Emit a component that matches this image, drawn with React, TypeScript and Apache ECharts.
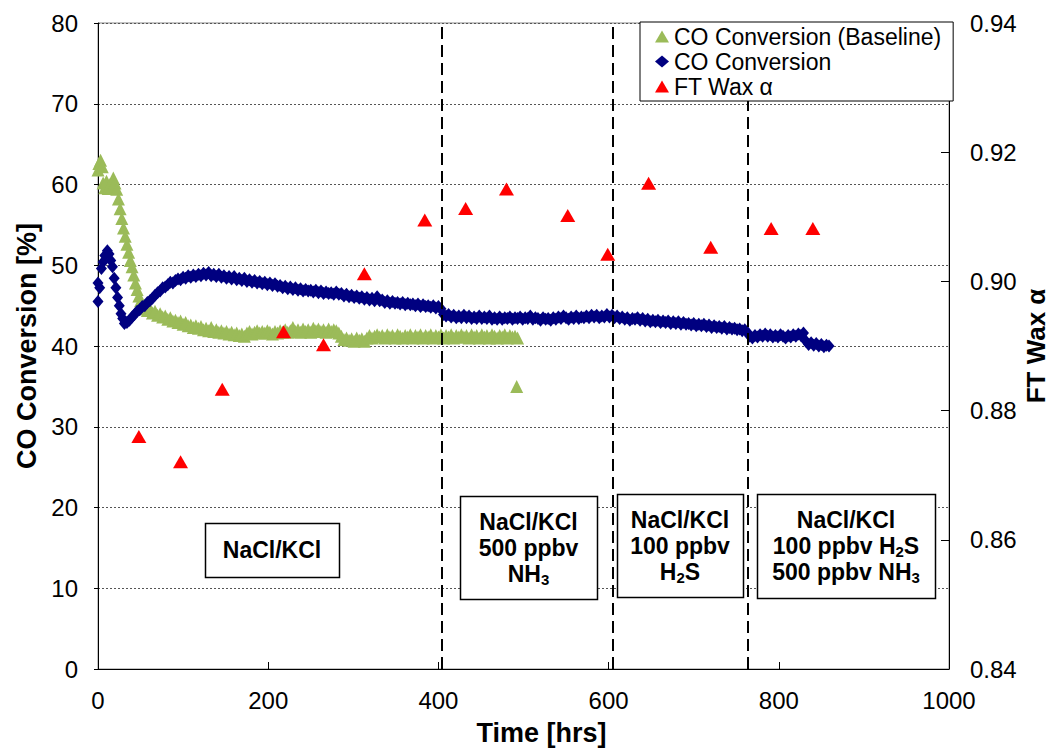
import React, { useEffect, useRef } from "react";
import * as echarts from "echarts";

const FONT = "'Liberation Sans', Arial, sans-serif";

const xTicks = [0, 200, 400, 600, 800, 1000];
const phaseBreaks = [404, 605, 764];

// CO Conversion (Baseline) [hrs, %]
const baseline: number[][] = [
  [0, 61.8], [1, 62.6], [3, 63.0], [5, 62.2], [6, 60.2], [8, 59.6], [10, 60.4], [12, 59.5], [14, 60.0], [16, 59.6],
  [18, 60.8], [20, 60.2], [22, 59.4], [24, 58.2], [26, 57.0], [28, 55.8], [30, 54.6], [32, 53.6], [34, 52.6], [36, 51.6],
  [38, 50.6], [40, 49.8], [42, 48.8], [44, 47.8], [46, 47.0], [48, 46.2], [50, 45.6], [52, 45.0], [55, 44.6], [58, 44.4],
  [61, 44.6], [64, 44.1], [67, 44.3], [70, 43.8], [73, 44.0], [76, 43.6], [79, 43.7], [82, 43.3], [85, 43.5], [88, 43.1],
  [91, 43.2], [94, 42.9], [97, 43.1], [100, 42.7], [103, 42.9], [106, 42.5], [109, 42.6], [112, 42.3], [115, 42.5], [118, 42.2],
  [121, 42.4], [124, 42.0], [127, 42.2], [130, 41.9], [133, 42.3], [136, 41.8], [139, 42.0], [142, 41.7], [145, 41.9], [148, 41.6],
  [151, 41.8], [154, 41.5], [157, 41.7], [160, 41.4], [163, 41.6], [166, 41.3], [169, 41.5], [172, 41.2], [175, 41.6], [178, 41.8],
  [181, 41.5], [184, 41.7], [187, 41.9], [190, 41.6], [193, 41.8], [196, 41.6], [199, 41.9], [202, 41.7], [205, 41.5], [208, 41.8],
  [211, 41.6], [214, 41.9], [217, 41.7], [220, 42.0], [223, 41.7], [226, 41.9], [229, 42.3], [232, 41.8], [235, 42.0], [238, 41.7],
  [241, 42.1], [244, 41.8], [247, 42.0], [250, 41.7], [253, 42.2], [256, 41.9], [259, 42.1], [262, 41.8], [265, 42.0], [268, 41.7],
  [271, 42.1], [274, 41.8], [277, 42.0], [280, 41.9], [283, 41.6], [286, 41.2], [289, 40.8], [292, 41.0], [295, 40.7], [298, 40.9],
  [301, 40.6], [304, 41.0], [307, 40.7], [310, 40.9], [313, 40.6], [316, 41.0], [319, 41.3], [322, 41.0], [325, 41.2], [328, 41.4],
  [331, 41.1], [334, 41.3], [337, 41.0], [340, 41.4], [343, 41.1], [346, 41.3], [349, 41.0], [352, 41.4], [355, 41.2], [358, 41.0],
  [361, 41.3], [364, 41.1], [367, 41.4], [370, 41.0], [373, 41.3], [376, 41.1], [379, 41.4], [382, 41.0], [385, 41.3], [388, 41.1],
  [391, 41.4], [394, 41.0], [397, 41.3], [400, 41.1], [403, 41.4], [406, 41.0], [409, 41.3], [412, 41.1], [415, 41.4], [418, 41.0],
  [421, 41.3], [424, 41.1], [427, 41.4], [430, 41.1], [433, 41.3], [436, 41.0], [439, 41.4], [442, 41.1], [445, 41.3], [448, 41.0],
  [451, 41.4], [454, 41.1], [457, 41.3], [460, 41.0], [463, 41.4], [466, 41.2], [469, 41.0], [472, 41.3], [475, 41.1], [478, 41.4],
  [481, 41.0], [484, 41.3], [487, 41.1], [490, 41.2], [493, 41.0], [492, 35.0],
];

// CO Conversion [hrs, %]
const conversion: number[][] = [
  [0, 45.5], [0, 47.8], [2, 47.2], [4, 49.6], [6, 50.4], [8, 51.2], [11, 51.8], [13, 51.4], [15, 50.6], [17, 49.8],
  [19, 48.4], [21, 47.2], [23, 46.0], [25, 45.0], [27, 44.0], [29, 43.4], [31, 42.8], [34, 42.9], [37, 43.2], [40, 43.6],
  [43, 43.9], [46, 44.3], [49, 44.5], [52, 44.9], [55, 45.0], [58, 45.4], [61, 45.6], [64, 45.9], [67, 46.3], [70, 46.6],
  [73, 46.8], [76, 47.2], [79, 47.3], [82, 47.6], [85, 47.9], [88, 47.8], [91, 48.1], [94, 48.3], [97, 48.2], [100, 48.5],
  [103, 48.4], [106, 48.7], [109, 48.5], [112, 48.8], [115, 48.6], [118, 48.9], [121, 48.7], [124, 49.0], [127, 48.8], [130, 49.1],
  [133, 48.7], [136, 48.9], [139, 48.6], [142, 48.9], [145, 48.5], [148, 48.7], [151, 48.4], [154, 48.6], [157, 48.3], [160, 48.6],
  [163, 48.2], [166, 48.4], [169, 48.1], [172, 48.4], [175, 48.0], [178, 48.2], [181, 47.9], [184, 48.1], [187, 47.8], [190, 48.0],
  [193, 47.7], [196, 47.9], [199, 47.6], [202, 47.8], [205, 47.5], [208, 47.7], [211, 47.4], [214, 47.5], [217, 47.2], [220, 47.4],
  [223, 47.1], [226, 47.3], [229, 47.0], [232, 47.2], [235, 46.9], [238, 47.1], [241, 46.8], [244, 47.0], [247, 46.8], [250, 46.9],
  [253, 46.7], [256, 46.9], [259, 46.6], [262, 46.8], [265, 46.5], [268, 46.7], [271, 46.5], [274, 46.6], [277, 46.4], [280, 46.7],
  [283, 46.4], [286, 46.5], [289, 46.2], [292, 46.4], [295, 46.1], [298, 46.3], [301, 46.0], [304, 46.2], [307, 45.9], [310, 46.1],
  [313, 45.8], [316, 46.0], [319, 45.7], [322, 45.9], [325, 45.6], [328, 46.1], [331, 45.6], [334, 45.7], [337, 45.4], [340, 45.6],
  [343, 45.3], [346, 45.5], [349, 45.3], [352, 45.4], [355, 45.2], [358, 45.4], [361, 45.1], [364, 45.3], [367, 45.1], [370, 45.2],
  [373, 45.0], [376, 45.2], [379, 44.9], [382, 45.1], [385, 44.9], [388, 45.0], [391, 44.8], [394, 45.0], [397, 44.7], [400, 44.9],
  [403, 44.6], [406, 43.9], [409, 43.7], [412, 43.9], [415, 43.6], [418, 43.8], [421, 43.5], [424, 43.7], [427, 43.5], [430, 43.8],
  [433, 43.5], [436, 43.7], [439, 43.4], [442, 43.6], [445, 43.4], [448, 43.7], [451, 43.4], [454, 43.6], [457, 43.4], [460, 43.7],
  [463, 43.3], [466, 43.5], [469, 43.3], [472, 43.6], [475, 43.3], [478, 43.5], [481, 43.4], [484, 43.6], [487, 43.3], [490, 43.5],
  [493, 43.4], [496, 43.6], [499, 43.3], [502, 43.5], [505, 43.4], [508, 43.7], [511, 43.3], [514, 43.5], [517, 43.4], [520, 43.2],
  [523, 43.5], [526, 43.3], [529, 43.4], [532, 43.2], [535, 43.5], [538, 43.3], [541, 43.6], [544, 43.4], [547, 43.7], [550, 43.5],
  [553, 43.3], [556, 43.6], [559, 43.4], [562, 43.7], [565, 43.4], [568, 43.6], [571, 43.5], [574, 43.7], [577, 43.5], [580, 43.8],
  [583, 43.6], [586, 43.8], [589, 43.5], [592, 43.7], [595, 43.6], [598, 43.9], [601, 43.6], [604, 43.8], [607, 43.5], [610, 43.7],
  [613, 43.4], [616, 43.6], [619, 43.3], [622, 43.5], [625, 43.2], [628, 43.4], [631, 43.3], [634, 43.5], [637, 43.2], [640, 43.4],
  [643, 43.1], [646, 43.3], [649, 43.0], [652, 43.2], [655, 43.0], [658, 43.2], [661, 42.9], [664, 43.1], [667, 42.9], [670, 43.1],
  [673, 42.8], [676, 43.0], [679, 42.8], [682, 43.0], [685, 42.7], [688, 42.9], [691, 42.7], [694, 42.8], [697, 42.6], [700, 42.8],
  [703, 42.5], [706, 42.7], [709, 42.5], [712, 42.7], [715, 42.4], [718, 42.6], [721, 42.3], [724, 42.5], [727, 42.3], [730, 42.4],
  [733, 42.2], [736, 42.4], [739, 42.1], [742, 42.3], [745, 42.1], [748, 42.2], [751, 42.0], [754, 42.1], [757, 41.9], [760, 42.0],
  [763, 41.7], [766, 41.2], [769, 41.0], [772, 41.3], [775, 41.1], [778, 41.4], [781, 41.2], [784, 41.5], [787, 41.2], [790, 41.4],
  [793, 41.1], [796, 41.3], [799, 41.1], [802, 41.4], [805, 41.2], [808, 41.0], [811, 41.3], [814, 41.1], [817, 41.4], [820, 41.2],
  [823, 41.5], [826, 41.3], [829, 41.6], [832, 40.6], [835, 40.2], [838, 40.4], [841, 40.1], [844, 40.3], [847, 40.0], [850, 40.2],
  [853, 39.9], [856, 40.1], [859, 40.0],
];

// FT Wax alpha [hrs, alpha]
const waxAlpha: number[][] = [
  [48, 0.876], [97, 0.8721], [146, 0.8833], [218, 0.8922], [265, 0.8902], [313, 0.9012], [384, 0.9095], [432, 0.9113],
  [480, 0.9143], [552, 0.9102], [599, 0.9042], [647, 0.9152], [720, 0.9053], [791, 0.9082], [840, 0.9082],
];

const boxLabels = [
  "{b|NaCl/KCl}",
  "{b|NaCl/KCl}\n{b|500 ppbv}\n{b|NH}{s|3}",
  "{b|NaCl/KCl}\n{b|100 ppbv}\n{b|H}{s|2}{b|S}",
  "{b|NaCl/KCl}\n{b|100 ppbv H}{s|2}{b|S}\n{b|500 ppbv NH}{s|3}",
];
const boxRects = [
  [205, 523, 134, 54],
  [460, 496, 137, 103],
  [617, 494, 126, 103],
  [757, 494, 178, 104],
];

export default function App() {
  const ref = useRef<HTMLDivElement>(null);
  useEffect(() => {
    if (!ref.current) return;
    const chart = echarts.init(ref.current, null, { renderer: "svg" });
    const rich = {
      b: { fontFamily: FONT, fontSize: 23, fontWeight: "bold", color: "#000", lineHeight: 26 },
      s: { fontFamily: FONT, fontSize: 15, fontWeight: "bold", color: "#000", lineHeight: 15, verticalAlign: "bottom" },
    };
    const graphics: any[] = [];
    boxRects.forEach((r, i) => {
      graphics.push({
        type: "rect",
        shape: { x: r[0] + 0.5, y: r[1] + 0.5, width: r[2], height: r[3] },
        style: { fill: "#fff", stroke: "#000", lineWidth: 1.5 },
        z: 10,
      });
      graphics.push({
        type: "text",
        x: r[0] + r[2] / 2,
        y: r[1] + r[3] / 2,
        style: { text: boxLabels[i], rich, align: "center", verticalAlign: "middle" },
        z: 11,
      });
    });
    const axisLabel = { fontFamily: FONT, fontSize: 24, color: "#000" };
    const nameStyle = { fontFamily: FONT, fontSize: 27, fontWeight: "bold", color: "#000" };
    chart.setOption({
      animation: false,
      textStyle: { fontFamily: FONT },
      grid: {
        left: 98, right: 101, top: 23, bottom: 82,
        containLabel: false,
        outerBoundsMode: "none",
        show: true, borderColor: "#888", borderWidth: 1,
      },
      legend: {
        orient: "vertical",
        left: 640, top: 22,
        padding: [3, 12, 3, 15],
        itemGap: 2,
        itemWidth: 14, itemHeight: 12,
        backgroundColor: "#fff",
        borderColor: "#000", borderWidth: 1,
        textStyle: { fontFamily: FONT, fontSize: 23, color: "#000" },
        data: [
          { name: "CO Conversion (Baseline)", icon: "triangle" },
          { name: "CO Conversion", icon: "diamond" },
          { name: "FT Wax α", icon: "triangle" },
        ],
        z: 12,
      },
      xAxis: {
        type: "value", min: 0, max: 1000, interval: 200,
        name: "Time [hrs]", nameLocation: "middle", nameGap: 50,
        nameMoveOverlap: false,
        nameTextStyle: { ...nameStyle, padding: [0, 0, 0, 36] },
        axisLine: { show: true, lineStyle: { color: "#000", width: 1 } },
        axisTick: { show: true, inside: true, length: 7, lineStyle: { color: "#000" } },
        axisLabel: { ...axisLabel, margin: 19, formatter: (v: number) => (xTicks.includes(v) ? String(v) : "") },
        splitLine: { show: false },
      },
      yAxis: [
        {
          type: "value", min: 0, max: 80, interval: 10, position: "left",
          name: "CO Conversion [%]", nameLocation: "middle", nameGap: 58,
          nameMoveOverlap: false,
          nameTextStyle: nameStyle,
          axisLine: { show: true, lineStyle: { color: "#000", width: 1 } },
          axisTick: { show: true, inside: false, length: 4, lineStyle: { color: "#000" } },
          axisLabel: { ...axisLabel, margin: 20 },
          splitLine: { show: true, lineStyle: { color: "#555", type: [2, 2], width: 1 } },
        },
        {
          type: "value", min: 0.84, max: 0.94, interval: 0.02, position: "right",
          name: "FT Wax α", nameLocation: "middle", nameGap: 74,
          nameMoveOverlap: false,
          nameTextStyle: { ...nameStyle, fontSize: 26 },
          axisLine: { show: true, lineStyle: { color: "#000", width: 1 } },
          axisTick: { show: true, inside: true, length: 8, lineStyle: { color: "#000" } },
          axisLabel: { ...axisLabel, margin: 21, formatter: (v: number) => v.toFixed(2) },
          splitLine: { show: false },
        },
      ],
      series: [
        {
          name: "CO Conversion (Baseline)", type: "scatter", data: baseline,
          symbol: "triangle", symbolSize: [13, 13],
          itemStyle: { color: "#9BBB59", opacity: 1 },
          markLine: {
            silent: true, symbol: "none",
            label: { show: false },
            lineStyle: { color: "#000", type: [12, 6], width: 2 },
            data: phaseBreaks.map((v) => ({ xAxis: v })),
            z: 5,
          },
        },
        {
          name: "CO Conversion", type: "scatter", data: conversion,
          symbol: "diamond", symbolSize: [11, 13],
          itemStyle: { color: "#000080", opacity: 1 },
        },
        {
          name: "FT Wax α", type: "scatter", yAxisIndex: 1, data: waxAlpha,
          symbol: "triangle", symbolSize: [15, 13],
          itemStyle: { color: "#FF0000", opacity: 1 },
        },
      ],
      graphic: graphics,
    });
    return () => chart.dispose();
  }, []);
  return <div ref={ref} style={{ position: "absolute", left: 0, top: 0, width: 1050, height: 751 }} />;
}
